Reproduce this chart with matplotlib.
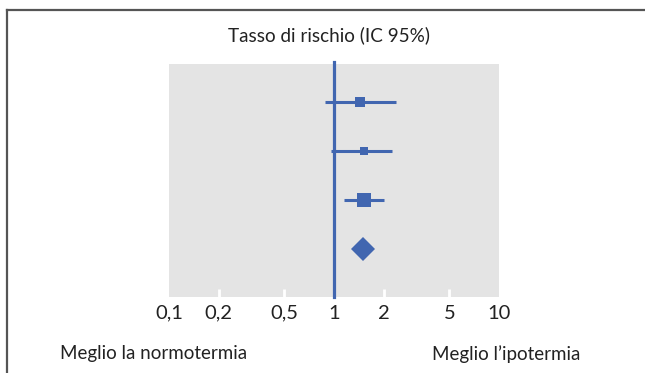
import matplotlib
matplotlib.use("Agg")
import matplotlib.pyplot as plt
from matplotlib.lines import Line2D

plt.rcParams["font.family"] = ["Lato", "DejaVu Sans"]

# Hazard ratios with 95% confidence intervals (top to bottom)
rows = [0, 1, 2]
hr = [1.44, 1.52, 1.53]
ci_low = [0.88, 0.96, 1.15]
ci_high = [2.37, 2.25, 2.01]
box_sizes = [7.9, 5.8, 9.4]
pooled_row = 3
pooled_hr = 1.50

tick_values = [0.1, 0.2, 0.5, 1, 2, 5, 10]
tick_labels = ["0,1", "0,2", "0,5", "1", "2", "5", "10"]

blue = "#4166B0"
W, H = 645, 373
fig = plt.figure(figsize=(W / 100, H / 100), dpi=100)
ax = fig.add_axes([169 / W, (H - 296.5) / H, 330 / W, 232.5 / H])
ax.set_facecolor("#E4E4E4")
ax.set_xscale("log")
ax.set_xlim(0.1, 10)
ax.set_ylim(3.96, -0.776)

for s in ax.spines.values():
    s.set_visible(False)
ax.set_yticks([])
ax.set_xticks(tick_values)
ax.set_xticklabels(tick_labels)
ax.minorticks_off()
ax.tick_params(axis="x", direction="in", length=6, width=2, color="white",
               labelsize=14.5, pad=6, labelcolor="#222222")
# hide edge ticks at 0.1 and 10
for t in ax.xaxis.get_major_ticks():
    if t.get_loc() in (0.1, 10):
        t.tick1line.set_visible(False)

# line of no effect
ax.axvline(1, ymin=0, ymax=1.01, color=blue, lw=2.3, clip_on=False, zorder=2)

for r, m, lo, hi, sz in zip(rows, hr, ci_low, ci_high, box_sizes):
    ax.plot([lo, hi], [r, r], color=blue, lw=2.2, solid_capstyle="butt", zorder=3)
    ax.plot([m], [r], marker="s", ms=sz, color=blue, mec=blue, mew=0, zorder=4)

ax.plot([pooled_hr], [pooled_row], marker="D", ms=12.5, color=blue, mec=blue, mew=0, zorder=4)

fig.text(329 / W, (H - 35) / H, "Tasso di rischio (IC 95%)", ha="center", va="center",
         fontsize=13.6, color="#222222")
fig.text(60 / W, (H - 354) / H, "Meglio la normotermia", ha="left", va="center",
         fontsize=13.5, color="#222222")
fig.text(432 / W, (H - 354) / H, "Meglio l\u2019ipotermia", ha="left", va="center",
         fontsize=13.5, color="#222222")

# outer frame (top and left edges)
fig.add_artist(Line2D([7 / W, 1], [(H - 10) / H, (H - 10) / H], color="#555555", lw=1.6,
                      transform=fig.transFigure))
fig.add_artist(Line2D([7 / W, 7 / W], [(H - 10) / H, 0], color="#555555", lw=1.6,
                      transform=fig.transFigure))

fig.savefig("out.png", dpi=100)
